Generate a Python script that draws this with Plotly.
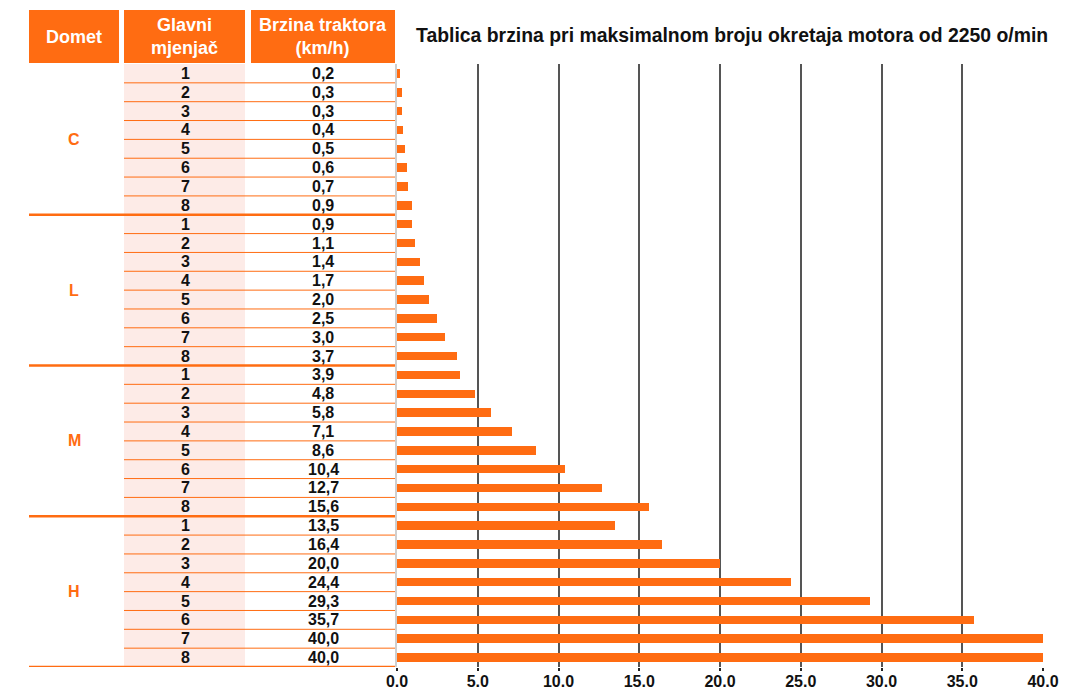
import plotly.graph_objects as go

# ---------------- data ----------------
domet = ["C", "L", "M", "H"]
gears = [1, 2, 3, 4, 5, 6, 7, 8]
speeds_C = [0.2, 0.3, 0.3, 0.4, 0.5, 0.6, 0.7, 0.9]
speeds_L = [0.9, 1.1, 1.4, 1.7, 2.0, 2.5, 3.0, 3.7]
speeds_M = [3.9, 4.8, 5.8, 7.1, 8.6, 10.4, 12.7, 15.6]
speeds_H = [13.5, 16.4, 20.0, 24.4, 29.3, 35.7, 40.0, 40.0]
x_ticks = [0, 5, 10, 15, 20, 25, 30, 35, 40]
title_text = "Tablica brzina pri maksimalnom broju okretaja motora od 2250 o/min"
header_domet = "Domet"
header_gear = "Glavni<br>mjenjač"
header_speed = "Brzina traktora<br>(km/h)"

speeds = speeds_C + speeds_L + speeds_M + speeds_H
gear_col = gears * len(domet)
rows = list(range(len(speeds)))

# ---------------- style ----------------
W, H = 1074, 689
OFF = 8  # page body margin
ORANGE = "#FF6C12"
PINK = "#FDEBE7"
FONT = "Liberation Sans, Arial, sans-serif"


def px(x):
    return (x - OFF) / W


def py(y):
    return 1 - (y - OFF) / H


plot_top, plot_bot = 64, 667
plot_left, plot_right = 397, 1043

fig = go.Figure()
fig.add_trace(go.Bar(
    x=speeds, y=rows, orientation="h", width=0.45,
    marker=dict(color=ORANGE, line=dict(width=0)),
    hoverinfo="x", showlegend=False,
))

shapes = []
annotations = []

# pink column background
shapes.append(dict(type="rect", xref="paper", yref="y", x0=px(124), x1=px(245),
                   y0=-0.5, y1=len(rows) - 0.5, fillcolor=PINK, line=dict(width=0), layer="below"))

# header boxes
for x0, x1, txt in [(29, 119, header_domet), (124, 245, header_gear), (251, 395, header_speed)]:
    shapes.append(dict(type="rect", xref="paper", yref="paper", x0=px(x0), x1=px(x1),
                       y0=py(63), y1=py(10), fillcolor=ORANGE, line=dict(width=0)))
    annotations.append(dict(xref="paper", yref="paper", x=px((x0 + x1) / 2), y=py(36.5),
                            text=txt, showarrow=False, xanchor="center", yanchor="middle",
                            font=dict(family=FONT, size=18, color="white", weight="bold")))

# row lines
n = len(rows)
for i in range(n):
    b = i + 0.5
    if (i + 1) % len(gears) == 0:
        shapes.append(dict(type="line", xref="paper", yref="y", x0=px(29), x1=px(395),
                           y0=b, y1=b, line=dict(color=ORANGE, width=2.5)))
    else:
        shapes.append(dict(type="line", xref="paper", yref="y", x0=px(124), x1=px(395),
                           y0=b, y1=b, line=dict(color=ORANGE, width=1)))

# table texts
for i, (g, s) in enumerate(zip(gear_col, speeds)):
    annotations.append(dict(xref="paper", yref="y", x=px(185), y=i, text=str(g), showarrow=False,
                            xanchor="center", yanchor="middle",
                            font=dict(family=FONT, size=16, color="#111", weight="bold")))
    annotations.append(dict(xref="paper", yref="y", x=px(323), y=i,
                            text=f"{s:.1f}".replace(".", ","), showarrow=False,
                            xanchor="center", yanchor="middle",
                            font=dict(family=FONT, size=16, color="#111", weight="bold")))

for k, d in enumerate(domet):
    annotations.append(dict(xref="paper", yref="y", x=px(74), y=k * len(gears) + (len(gears) - 1) / 2,
                            text=d, showarrow=False, xanchor="center", yanchor="middle",
                            font=dict(family=FONT, size=16, color=ORANGE, weight="bold")))

# title
annotations.append(dict(xref="paper", yref="paper", x=px(414), y=py(35), text=title_text,
                        showarrow=False, xanchor="left", yanchor="middle",
                        font=dict(family=FONT, size=19.4, color="#111", weight="bold")))

fig.update_layout(
    width=W, height=H,
    margin=dict(l=0, r=0, t=0, b=0, pad=0, autoexpand=False),
    paper_bgcolor="white", plot_bgcolor="white",
    bargap=0,
    shapes=shapes, annotations=annotations,
    xaxis=dict(
        domain=[px(plot_left), px(plot_right)], range=[0, 40], automargin=False,
        tickvals=x_ticks, ticktext=[f"{v:.1f}" for v in x_ticks],
        showgrid=True, gridcolor="#555", gridwidth=1.5, zeroline=False,
        ticks="outside", ticklen=3, tickwidth=2, tickcolor="#222",
        ticklabelstandoff=-3,
        tickfont=dict(family=FONT, size=16, color="#111", weight="bold"),
        showline=False, fixedrange=True,
    ),
    xaxis2=dict(
        domain=[px(plot_left), px(plot_right)], range=[0, 40], overlaying="x", side="top",
        anchor="y", tickvals=x_ticks, showticklabels=False, showgrid=False, zeroline=False,
        ticks="outside", ticklen=3, tickwidth=2, tickcolor="#222", automargin=False,
        showline=True, linecolor="#666", linewidth=1.5,
    ),
    yaxis=dict(
        domain=[py(plot_bot), py(plot_top)], range=[n - 0.5, -0.5], automargin=False,
        showticklabels=False, showgrid=False, zeroline=False, ticks="",
        showline=True, linecolor="#cfcfcf", linewidth=2, fixedrange=True,
    ),
)

fig.write_html("out.html")
